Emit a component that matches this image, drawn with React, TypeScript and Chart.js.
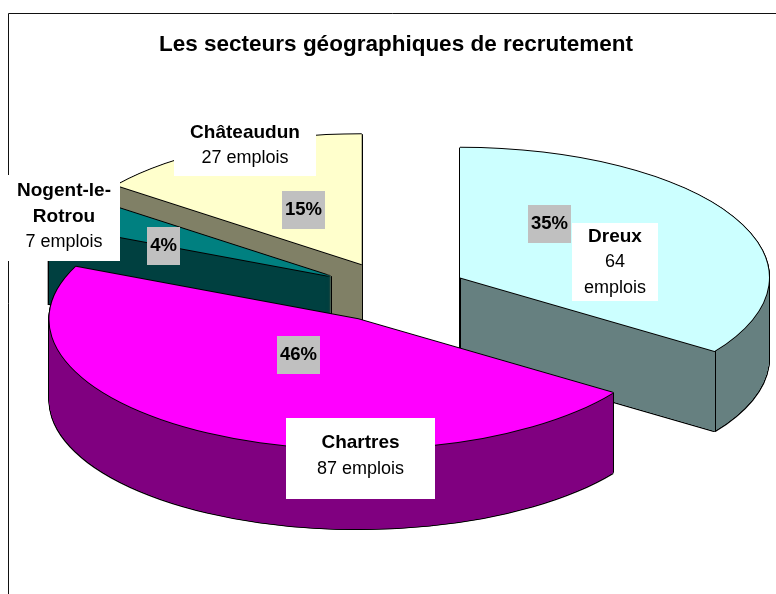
import React, { useEffect, useRef } from "react";
import { Chart, registerables } from "chart.js";

Chart.register(...registerables);

const categories = ["Dreux", "Chartres", "Nogent-le-Rotrou", "Châteaudun"];
const jobs = [64, 87, 7, 27];
const percentLabels = ["35%", "46%", "4%", "15%"];
const topColors = ["#CCFFFF", "#FF00FF", "#008080", "#FFFFCC"];
const wallColors = ["#668080", "#800080", "#004040", "#808066"];
const titleText = "Les secteurs géographiques de recrutement";
const FONT = '"Liberation Sans", Arial, sans-serif';

// Projection of the flat pie into its tilted, exploded look
const CENTER = { x: 394.5, y: 292 };
const RADIUS = 309;
const TILT = 0.42;
const EXPLODE = 74;
const DEPTH = 80;
const PAINT_ORDER = [3, 2, 0, 1];

const percentBoxes = [
  { x: 528, y: 205, w: 43, h: 38 },
  { x: 277, y: 336, w: 43, h: 38 },
  { x: 147, y: 227, w: 33, h: 38 },
  { x: 282, y: 191, w: 43, h: 38 },
];
const nameBoxes = [
  { x: 572, y: 223, w: 86, h: 78, lines: [[0, "Dreux"], [1, "64"], [1, "emplois"]], ys: [237, 262, 288] },
  { x: 286, y: 418, w: 149, h: 81, lines: [[0, "Chartres"], [1, "87 emplois"]], ys: [443, 469] },
  { x: 8, y: 175, w: 112, h: 86, lines: [[0, "Nogent-le-"], [0, "Rotrou"], [1, "7 emplois"]], ys: [191, 217, 242] },
  { x: 174, y: 120, w: 142, h: 56, lines: [[0, "Châteaudun"], [1, "27 emplois"]], ys: [133, 158] },
];

const pie3d = {
  id: "pie3d",
  beforeDatasetsDraw(chart: any) {
    const ctx = chart.ctx;
    // frame
    ctx.save();
    ctx.strokeStyle = "#111";
    ctx.lineWidth = 1;
    ctx.beginPath();
    ctx.moveTo(8.5, 594);
    ctx.lineTo(8.5, 13.5);
    ctx.lineTo(776, 13.5);
    ctx.stroke();
    ctx.restore();

    const arcs = chart.getDatasetMeta(0).data;
    const place = (arc: any) => {
      const mid = (arc.startAngle + arc.endAngle) / 2;
      return {
        x: CENTER.x + Math.cos(mid) * EXPLODE,
        y: CENTER.y + Math.sin(mid) * EXPLODE * TILT,
      };
    };
    const paint = (target: any, arc: any, color: string, dx: number, dy: number) => {
      const p = place(arc);
      const saved = arc.options;
      arc.options = { ...saved, backgroundColor: color, borderWidth: 0 };
      target.save();
      target.translate(p.x + dx, p.y + dy);
      target.scale(1, TILT);
      target.translate(-arc.x, -arc.y);
      arc.draw(target);
      target.restore();
      arc.options = saved;
    };

    const layer = document.createElement("canvas");
    layer.width = chart.width;
    layer.height = chart.height;
    const layerCtx = layer.getContext("2d") as CanvasRenderingContext2D;

    for (const i of PAINT_ORDER) {
      const arc = arcs[i];
      const p = place(arc);
      for (let k = DEPTH + 1; k >= 0; k--) {
        paint(ctx, arc, "#000", -1, k);
        paint(ctx, arc, "#000", 1, k);
      }
      // The wall is swept on its own layer and flooded with one exact colour
      layerCtx.clearRect(0, 0, layer.width, layer.height);
      for (let k = DEPTH; k >= 0; k -= 0.25) paint(layerCtx, arc, wallColors[i], 0, k);
      layerCtx.save();
      layerCtx.globalCompositeOperation = "source-in";
      layerCtx.fillStyle = wallColors[i];
      layerCtx.fillRect(0, 0, layer.width, layer.height);
      layerCtx.restore();
      ctx.drawImage(layer, 0, 0);
      ctx.drawImage(layer, 0, 0);
      // upright edges: only at corners whose wall or rim faces the viewer
      const s = arc.startAngle;
      const e = arc.endAngle;
      const startSeen = -Math.cos(s) > 0 || Math.sin(s) > 0;
      const endSeen = Math.cos(e) > 1e-6 || Math.sin(e) > 0;
      const corners: number[][] = [[p.x, p.y]];
      if (startSeen) corners.push([p.x + Math.cos(s) * RADIUS, p.y + Math.sin(s) * RADIUS * TILT]);
      if (endSeen) corners.push([p.x + Math.cos(e) * RADIUS, p.y + Math.sin(e) * RADIUS * TILT]);
      ctx.save();
      ctx.strokeStyle = "#000";
      ctx.lineWidth = 1;
      for (const [cx, cy] of corners) {
        ctx.beginPath();
        ctx.moveTo(Math.round(cx) + 0.5, cy);
        ctx.lineTo(Math.round(cx) + 0.5, cy + DEPTH);
        ctx.stroke();
      }
      ctx.restore();
      paint(ctx, arc, "#000", -1, 0);
      paint(ctx, arc, "#000", 1, 0);
      paint(ctx, arc, "#000", 0, -1);
      paint(ctx, arc, "#000", 0, 1);
      paint(ctx, arc, topColors[i], 0, 0);
    }
    return false;
  },
  afterDraw(chart: any) {
    const ctx = chart.ctx;
    ctx.save();
    ctx.textAlign = "center";
    ctx.textBaseline = "middle";
    percentBoxes.forEach((b, i) => {
      ctx.fillStyle = "#C0C0C0";
      ctx.fillRect(b.x, b.y, b.w, b.h);
      ctx.fillStyle = "#000";
      ctx.font = `bold 18.5px ${FONT}`;
      ctx.fillText(percentLabels[i], b.x + b.w / 2, b.y + b.h / 2);
    });
    nameBoxes.forEach((b) => {
      ctx.fillStyle = "#fff";
      ctx.fillRect(b.x, b.y, b.w, b.h);
      ctx.fillStyle = "#000";
      b.lines.forEach(([kind, text]: any, j: number) => {
        ctx.font = kind === 0 ? `bold 19px ${FONT}` : `18px ${FONT}`;
        ctx.fillText(text, b.x + b.w / 2, b.ys[j]);
      });
    });
    ctx.restore();
  },
};

export default function App() {
  const ref = useRef<HTMLCanvasElement>(null);
  useEffect(() => {
    const chart = new Chart(ref.current as HTMLCanvasElement, {
      type: "pie",
      data: {
        labels: categories,
        datasets: [
          {
            data: jobs,
            backgroundColor: topColors,
            borderWidth: 0,
            offset: 0,
          },
        ],
      },
      options: {
        animation: false,
        responsive: false,
        radius: RADIUS,
        layout: { padding: { left: 16 } },
        plugins: {
          legend: { display: false },
          tooltip: { enabled: false },
          title: {
            display: true,
            text: titleText,
            color: "#000",
            font: { family: FONT, size: 22.5, weight: "bold" },
            padding: { top: 31, bottom: 10 },
          },
        },
      },
      plugins: [pie3d],
    } as any);
    return () => chart.destroy();
  }, []);
  return (
    <div style={{ position: "fixed", left: 0, top: 0 }}>
      <canvas ref={ref} width={776} height={594} style={{ display: "block" }} />
    </div>
  );
}
